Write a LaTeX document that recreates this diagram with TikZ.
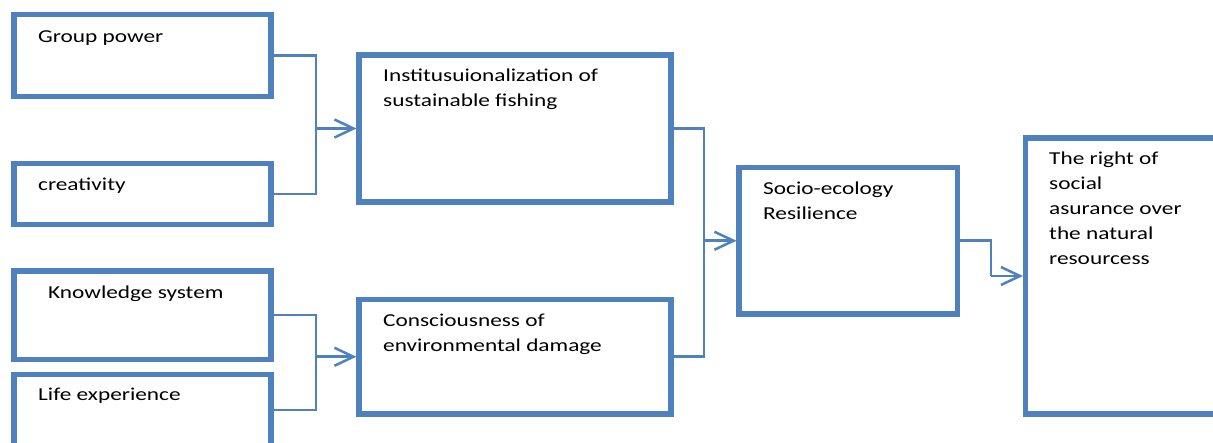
\documentclass[tikz,border=0pt]{standalone}
\usepackage{fontspec}
\setmainfont[FakeStretch=1.28]{Carlito}
\usetikzlibrary{arrows.meta}
\definecolor{officeblue}{HTML}{4F81BD}
\newcommand\mlines[1]{\begin{tabular}[t]{@{}l@{}}#1\end{tabular}}
\begin{document}
\begin{tikzpicture}[x=1pt,y=-1pt,
  box/.style={draw=officeblue, line width=5.2pt, fill=white, inner sep=0pt, rectangle},
  lbl/.style={anchor=base west, inner sep=0pt, text=black, font=\fontsize{18.2}{25}\selectfont},
  conn/.style={draw=officeblue, line width=2.5pt},
  arr/.style={draw=officeblue, line width=2.5pt, -{Straight Barb[length=19pt, width=18pt, line width=2.5pt]}}]
\useasboundingbox (0,0) rectangle (1213,443);
\clip (0,0) rectangle (1213,443);
\fill[white] (0,0) rectangle (1213,443);
% boxes
\node[box, minimum width=257pt, minimum height=82pt] (gp) at (142.5,55.5) {};
\node[box, minimum width=257pt, minimum height=61pt] (cr) at (142.5,194) {};
\node[box, minimum width=257pt, minimum height=88.5pt] (ks) at (142.5,315.25) {};
\node[box, minimum width=257pt, minimum height=71pt] (le) at (142.5,410) {};
\node[box, minimum width=312pt, minimum height=147pt] (inst) at (515,128.5) {};
\node[box, minimum width=312pt, minimum height=114.5pt] (cons) at (515,356.75) {};
\node[box, minimum width=218.5pt, minimum height=146.5pt] (soc) at (848.25,240.75) {};
\node[box, minimum width=214.5pt, minimum height=276pt] (res) at (1132.75,276) {};
% texts
\node[lbl] (tgp) at (38,43) {Group power};
\node[lbl] (tcr) at (38,191) {creativity};
\node[lbl] (tks) at (48,299) {Knowledge system};
\node[lbl] (tle) at (38,401) {Life experience};
\node[lbl] (tinst) at (383,82) {\mlines{Institusuionalization of\\sustainable fishing}};
\node[lbl] (tcons) at (383,327) {\mlines{Consciousness of\\environmental damage}};
\node[lbl] (tsoc) at (763,195) {\mlines{Socio-ecology\\Resilience}};
\node[lbl] (tres) at (1049,165) {\mlines{The right of\\social\\asurance over\\the natural\\resourcess}};
% junctions
\coordinate (j1) at (316,0);
\coordinate (j3) at (704,0);
\coordinate (j4) at (991,0);
% connectors
\draw[conn] (gp.east) -- (j1 |- gp.east) -- (j1 |- cr.east) -- (cr.east);
\draw[arr] (j1 |- inst.west) -- (inst.west);
\draw[conn] (ks.east) -- (j1 |- ks.east) -- (j1 |- le.east) -- (le.east);
\draw[arr] (j1 |- cons.west) -- (cons.west);
\draw[conn] (inst.east) -- (j3 |- inst.east) -- (j3 |- cons.east) -- (cons.east);
\draw[arr] (j3 |- soc.west) -- (soc.west);
\draw[conn] (soc.east) -- (j4 |- soc.east) -- (j4 |- res.west);
\draw[arr] (j4 |- res.west) -- (res.west);
\end{tikzpicture}
\end{document}
